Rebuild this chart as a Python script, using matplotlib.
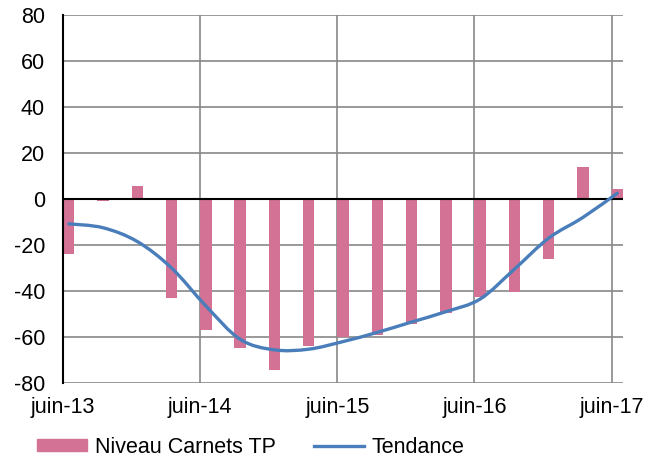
import matplotlib.pyplot as plt
from matplotlib.path import Path
from matplotlib.patches import PathPatch
from matplotlib.lines import Line2D
import numpy as np

# quarterly data, juin-13 .. juin-17
quarters = ['juin-13', 'sept-13', 'déc-13', 'mars-14', 'juin-14', 'sept-14', 'déc-14', 'mars-15',
            'juin-15', 'sept-15', 'déc-15', 'mars-16', 'juin-16', 'sept-16', 'déc-16', 'mars-17', 'juin-17']
niveau = [-24, -1, 5.5, -43, -57, -65, -74.5, -64, -60, -59, -54.5, -49.5, -42.5, -40.5, -26, 14, 4.5]
tendance = [-10.8, -12.5, -18.5, -30, -46.5, -61, -65.6, -65.3, -62, -58, -53.5, -49, -43.5, -30.5, -17, -8, 2.5]
tick_labels = ['juin-13', 'juin-14', 'juin-15', 'juin-16', 'juin-17']

plt.rcParams['font.family'] = ['Liberation Sans', 'DejaVu Sans']
plt.rcParams['axes.unicode_minus'] = False

# month index for each quarter (bars span one month on a date axis)
months = np.arange(len(quarters)) * 3

fig = plt.figure(figsize=(6.67, 4.59), dpi=100)
ax = fig.add_axes([0.0945, 0.1656, 0.8395, 0.8017])

ax.bar(months, niveau, width=1.0, align='edge', color='#D37295', label='Niveau Carnets TP', zorder=2)

# smoothed trend line (excel style): bezier segments through the points
px = months + 0.5
py = np.array(tendance, dtype=float)
verts = [(px[0], py[0])]
codes = [Path.MOVETO]
n = len(px)
for i in range(n - 1):
    x0, y0 = (px[i - 1], py[i - 1]) if i > 0 else (px[i], py[i])
    x3, y3 = (px[i + 2], py[i + 2]) if i + 2 < n else (px[i + 1], py[i + 1])
    c1 = (px[i] + (px[i + 1] - x0) / 6, py[i] + (py[i + 1] - y0) / 6)
    c2 = (px[i + 1] - (x3 - px[i]) / 6, py[i + 1] - (y3 - py[i]) / 6)
    verts += [c1, c2, (px[i + 1], py[i + 1])]
    codes += [Path.CURVE4] * 3
ax.add_patch(PathPatch(Path(verts, codes), fill=False, edgecolor='#4A7EBB', lw=2.4,
                       capstyle='round', zorder=3))

ax.set_xlim(0, 49)
ax.set_ylim(-80, 80)
ax.set_yticks(range(-80, 81, 20))
ax.set_xticks([0, 12, 24, 36, 48])
ax.set_xticklabels(tick_labels)
ax.tick_params(length=0, labelsize=15.5)
ax.tick_params(axis='y', pad=13)
ax.tick_params(axis='x', pad=10)

ax.grid(True, color='#888888', lw=1.2, zorder=0)
ax.axhline(0, color='black', lw=1.5, zorder=2.5)
for s in ['top', 'right', 'bottom']:
    ax.spines[s].set_visible(False)
ax.spines['left'].set_color('black')
ax.spines['left'].set_linewidth(1.5)

handles = [plt.Rectangle((0, 0), 1, 1, color='#D37295'),
           Line2D([], [], color='#4A7EBB', lw=2.4)]
fig.legend(handles, ['Niveau Carnets TP', 'Tendance'], loc='center', ncol=2, frameon=False,
           fontsize=15.5, bbox_to_anchor=(0.376, 0.026), handlelength=2.3, handleheight=0.5,
           columnspacing=1.8, handletextpad=0.35, borderpad=0)

plt.savefig('out.png', dpi=100)
plt.close()
